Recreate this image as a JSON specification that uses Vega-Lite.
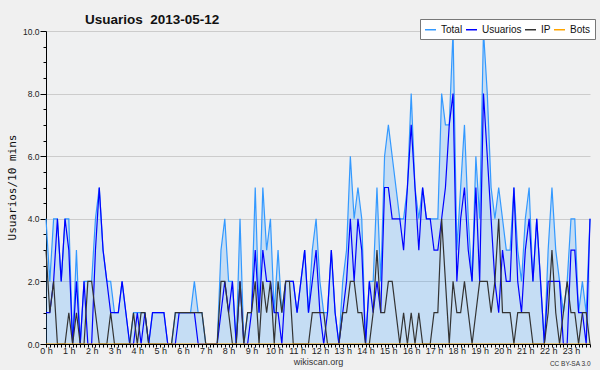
{
"$schema": "https://vega.github.io/schema/vega-lite/v6.json",
"width": 544, "height": 313,
"autosize": "none",
"padding": {"left": 46, "top": 31, "right": 10, "bottom": 26},
"background": "#f0f0f0",
"config": {"view": {"stroke": null, "fill": "#eff0f1"}},
"title": {"text": "Usuarios\u00a0 2013-05-12", "anchor": "start", "frame": "group", "dx": 39, "offset": -8, "font": "Liberation Sans", "fontSize": 13.5, "fontWeight": "bold", "color": "#111111"},
"data": {"values": [
{"m":0,"Total":4,"Usuarios":1,"IP":3,"Bots":0},
{"m":10,"Total":2,"Usuarios":1,"IP":1,"Bots":0},
{"m":20,"Total":4,"Usuarios":2,"IP":2,"Bots":0},
{"m":30,"Total":4,"Usuarios":4,"IP":0,"Bots":0},
{"m":40,"Total":2,"Usuarios":2,"IP":0,"Bots":0},
{"m":50,"Total":4,"Usuarios":4,"IP":0,"Bots":0},
{"m":60,"Total":4,"Usuarios":3,"IP":1,"Bots":0},
{"m":70,"Total":0,"Usuarios":0,"IP":0,"Bots":0},
{"m":80,"Total":3,"Usuarios":2,"IP":1,"Bots":0},
{"m":90,"Total":0,"Usuarios":0,"IP":0,"Bots":0},
{"m":100,"Total":2,"Usuarios":2,"IP":0,"Bots":0},
{"m":110,"Total":2,"Usuarios":0,"IP":2,"Bots":0},
{"m":120,"Total":2,"Usuarios":0,"IP":2,"Bots":0},
{"m":130,"Total":4,"Usuarios":3,"IP":1,"Bots":0},
{"m":140,"Total":5,"Usuarios":5,"IP":0,"Bots":0},
{"m":150,"Total":3,"Usuarios":3,"IP":0,"Bots":0},
{"m":160,"Total":2,"Usuarios":2,"IP":0,"Bots":0},
{"m":170,"Total":2,"Usuarios":1,"IP":1,"Bots":0},
{"m":180,"Total":1,"Usuarios":1,"IP":0,"Bots":0},
{"m":190,"Total":1,"Usuarios":1,"IP":0,"Bots":0},
{"m":200,"Total":2,"Usuarios":2,"IP":0,"Bots":0},
{"m":210,"Total":1,"Usuarios":1,"IP":0,"Bots":0},
{"m":220,"Total":0,"Usuarios":0,"IP":0,"Bots":0},
{"m":230,"Total":1,"Usuarios":0,"IP":1,"Bots":0},
{"m":240,"Total":1,"Usuarios":1,"IP":0,"Bots":0},
{"m":250,"Total":1,"Usuarios":0,"IP":1,"Bots":0},
{"m":260,"Total":1,"Usuarios":1,"IP":1,"Bots":0},
{"m":270,"Total":0,"Usuarios":0,"IP":0,"Bots":0},
{"m":280,"Total":1,"Usuarios":1,"IP":0,"Bots":0},
{"m":290,"Total":1,"Usuarios":1,"IP":0,"Bots":0},
{"m":300,"Total":1,"Usuarios":1,"IP":0,"Bots":0},
{"m":310,"Total":1,"Usuarios":1,"IP":0,"Bots":0},
{"m":320,"Total":0,"Usuarios":0,"IP":0,"Bots":0},
{"m":330,"Total":0,"Usuarios":0,"IP":0,"Bots":0},
{"m":340,"Total":1,"Usuarios":0,"IP":1,"Bots":0},
{"m":350,"Total":1,"Usuarios":1,"IP":1,"Bots":0},
{"m":360,"Total":1,"Usuarios":1,"IP":1,"Bots":0},
{"m":370,"Total":1,"Usuarios":1,"IP":1,"Bots":0},
{"m":380,"Total":1,"Usuarios":1,"IP":1,"Bots":0},
{"m":390,"Total":2,"Usuarios":1,"IP":1,"Bots":0},
{"m":400,"Total":1,"Usuarios":0,"IP":1,"Bots":0},
{"m":410,"Total":1,"Usuarios":0,"IP":1,"Bots":0},
{"m":420,"Total":0,"Usuarios":0,"IP":0,"Bots":0},
{"m":430,"Total":0,"Usuarios":0,"IP":0,"Bots":0},
{"m":440,"Total":0,"Usuarios":0,"IP":0,"Bots":0},
{"m":450,"Total":0,"Usuarios":0,"IP":0,"Bots":0},
{"m":460,"Total":3,"Usuarios":1,"IP":2,"Bots":0},
{"m":470,"Total":4,"Usuarios":2,"IP":2,"Bots":0},
{"m":480,"Total":2,"Usuarios":1,"IP":1,"Bots":0},
{"m":490,"Total":2,"Usuarios":2,"IP":0,"Bots":0},
{"m":500,"Total":0,"Usuarios":0,"IP":0,"Bots":0},
{"m":510,"Total":4,"Usuarios":2,"IP":2,"Bots":0},
{"m":520,"Total":0,"Usuarios":0,"IP":0,"Bots":0},
{"m":530,"Total":1,"Usuarios":0,"IP":1,"Bots":0},
{"m":540,"Total":1,"Usuarios":1,"IP":1,"Bots":0},
{"m":550,"Total":5,"Usuarios":3,"IP":2,"Bots":0},
{"m":560,"Total":1,"Usuarios":1,"IP":0,"Bots":0},
{"m":570,"Total":5,"Usuarios":3,"IP":2,"Bots":0},
{"m":580,"Total":3,"Usuarios":2,"IP":1,"Bots":0},
{"m":590,"Total":4,"Usuarios":2,"IP":2,"Bots":0},
{"m":600,"Total":1,"Usuarios":1,"IP":0,"Bots":0},
{"m":610,"Total":3,"Usuarios":1,"IP":2,"Bots":0},
{"m":620,"Total":1,"Usuarios":0,"IP":1,"Bots":0},
{"m":630,"Total":2,"Usuarios":2,"IP":2,"Bots":0},
{"m":640,"Total":2,"Usuarios":2,"IP":2,"Bots":0},
{"m":650,"Total":2,"Usuarios":2,"IP":0,"Bots":0},
{"m":660,"Total":1,"Usuarios":1,"IP":0,"Bots":0},
{"m":670,"Total":2,"Usuarios":2,"IP":0,"Bots":0},
{"m":680,"Total":3,"Usuarios":3,"IP":0,"Bots":0},
{"m":690,"Total":1,"Usuarios":1,"IP":0,"Bots":0},
{"m":700,"Total":3,"Usuarios":2,"IP":1,"Bots":0},
{"m":710,"Total":4,"Usuarios":3,"IP":1,"Bots":0},
{"m":720,"Total":2,"Usuarios":1,"IP":1,"Bots":0},
{"m":730,"Total":1,"Usuarios":0,"IP":1,"Bots":0},
{"m":740,"Total":1,"Usuarios":1,"IP":0,"Bots":0},
{"m":750,"Total":3,"Usuarios":3,"IP":0,"Bots":0},
{"m":760,"Total":1,"Usuarios":1,"IP":0,"Bots":0},
{"m":770,"Total":0,"Usuarios":0,"IP":0,"Bots":0},
{"m":780,"Total":2,"Usuarios":1,"IP":1,"Bots":0},
{"m":790,"Total":3,"Usuarios":2,"IP":1,"Bots":0},
{"m":800,"Total":6,"Usuarios":4,"IP":2,"Bots":0},
{"m":810,"Total":4,"Usuarios":2,"IP":2,"Bots":0},
{"m":820,"Total":5,"Usuarios":4,"IP":1,"Bots":0},
{"m":830,"Total":4,"Usuarios":3,"IP":1,"Bots":0},
{"m":840,"Total":0,"Usuarios":0,"IP":0,"Bots":0},
{"m":850,"Total":2,"Usuarios":2,"IP":0,"Bots":0},
{"m":860,"Total":2,"Usuarios":1,"IP":1,"Bots":0},
{"m":870,"Total":5,"Usuarios":2,"IP":3,"Bots":0},
{"m":880,"Total":2,"Usuarios":1,"IP":1,"Bots":0},
{"m":890,"Total":6,"Usuarios":5,"IP":1,"Bots":0},
{"m":900,"Total":7,"Usuarios":5,"IP":2,"Bots":0},
{"m":910,"Total":6,"Usuarios":4,"IP":2,"Bots":0},
{"m":920,"Total":5,"Usuarios":4,"IP":1,"Bots":0},
{"m":930,"Total":4,"Usuarios":4,"IP":0,"Bots":0},
{"m":940,"Total":4,"Usuarios":3,"IP":1,"Bots":0},
{"m":950,"Total":5,"Usuarios":5,"IP":0,"Bots":0},
{"m":960,"Total":8,"Usuarios":7,"IP":1,"Bots":0},
{"m":970,"Total":5,"Usuarios":5,"IP":0,"Bots":0},
{"m":980,"Total":4,"Usuarios":3,"IP":1,"Bots":0},
{"m":990,"Total":5,"Usuarios":5,"IP":0,"Bots":0},
{"m":1000,"Total":4,"Usuarios":4,"IP":0,"Bots":0},
{"m":1010,"Total":4,"Usuarios":4,"IP":0,"Bots":0},
{"m":1020,"Total":4,"Usuarios":3,"IP":1,"Bots":0},
{"m":1030,"Total":4,"Usuarios":3,"IP":1,"Bots":0},
{"m":1040,"Total":8,"Usuarios":4,"IP":4,"Bots":0},
{"m":1050,"Total":7,"Usuarios":5,"IP":2,"Bots":0},
{"m":1060,"Total":7,"Usuarios":7,"IP":0,"Bots":0},
{"m":1070,"Total":10,"Usuarios":8,"IP":2,"Bots":0},
{"m":1080,"Total":3,"Usuarios":2,"IP":1,"Bots":0},
{"m":1090,"Total":5,"Usuarios":4,"IP":1,"Bots":0},
{"m":1100,"Total":7,"Usuarios":5,"IP":2,"Bots":0},
{"m":1110,"Total":4,"Usuarios":3,"IP":1,"Bots":0},
{"m":1120,"Total":2,"Usuarios":2,"IP":0,"Bots":0},
{"m":1130,"Total":6,"Usuarios":5,"IP":1,"Bots":0},
{"m":1140,"Total":4,"Usuarios":2,"IP":2,"Bots":0},
{"m":1150,"Total":10,"Usuarios":8,"IP":2,"Bots":0},
{"m":1160,"Total":8,"Usuarios":6,"IP":2,"Bots":0},
{"m":1170,"Total":5,"Usuarios":4,"IP":1,"Bots":0},
{"m":1180,"Total":4,"Usuarios":2,"IP":2,"Bots":0},
{"m":1190,"Total":5,"Usuarios":1,"IP":4,"Bots":0},
{"m":1200,"Total":4,"Usuarios":3,"IP":1,"Bots":0},
{"m":1210,"Total":3,"Usuarios":2,"IP":1,"Bots":0},
{"m":1220,"Total":3,"Usuarios":2,"IP":1,"Bots":0},
{"m":1230,"Total":5,"Usuarios":5,"IP":0,"Bots":0},
{"m":1240,"Total":3,"Usuarios":2,"IP":1,"Bots":0},
{"m":1250,"Total":2,"Usuarios":1,"IP":1,"Bots":0},
{"m":1260,"Total":4,"Usuarios":3,"IP":1,"Bots":0},
{"m":1270,"Total":5,"Usuarios":4,"IP":1,"Bots":0},
{"m":1280,"Total":2,"Usuarios":2,"IP":0,"Bots":0},
{"m":1290,"Total":4,"Usuarios":4,"IP":0,"Bots":0},
{"m":1300,"Total":2,"Usuarios":2,"IP":0,"Bots":0},
{"m":1310,"Total":0,"Usuarios":0,"IP":0,"Bots":0},
{"m":1320,"Total":3,"Usuarios":2,"IP":1,"Bots":0},
{"m":1330,"Total":5,"Usuarios":2,"IP":3,"Bots":0},
{"m":1340,"Total":3,"Usuarios":2,"IP":1,"Bots":0},
{"m":1350,"Total":2,"Usuarios":2,"IP":0,"Bots":0},
{"m":1360,"Total":1,"Usuarios":0,"IP":1,"Bots":0},
{"m":1370,"Total":2,"Usuarios":0,"IP":2,"Bots":0},
{"m":1380,"Total":4,"Usuarios":3,"IP":1,"Bots":0},
{"m":1390,"Total":4,"Usuarios":3,"IP":1,"Bots":0},
{"m":1400,"Total":1,"Usuarios":1,"IP":0,"Bots":0},
{"m":1410,"Total":2,"Usuarios":1,"IP":1,"Bots":0},
{"m":1420,"Total":1,"Usuarios":0,"IP":1,"Bots":0},
{"m":1430,"Total":4,"Usuarios":4,"IP":0,"Bots":0}
]},
"transform": [{"fold": ["Total", "Usuarios", "IP", "Bots"], "as": ["key", "value"]}],
"encoding": {
  "y": {"field": "value", "type": "quantitative", "scale": {"domain": [0, 10], "nice": false, "zero": true},
    "axis": {"title": "Usuarios/10 mins", "values": [0,0.5,1,1.5,2,2.5,3,3.5,4,4.5,5,5.5,6,6.5,7,7.5,8,8.5,9,9.5,10],
      "labelExpr": "datum.value % 2 == 0 ? format(datum.value, '.1f') : ''",
      "labelOverlap": false, "labelFont": "Liberation Sans", "labelFontSize": 8.5, "labelColor": "#222222", "labelPadding": 1,
      "grid": true, "gridColor": "#cccccc", "gridOpacity": {"condition": {"test": "datum.value % 2 == 0 && datum.value > 0", "value": 1}, "value": 0},
      "domainColor": "#000000", "tickColor": "#000000", "tickSize": {"condition": {"test": "datum.value % 2 == 0", "value": 6}, "value": 3},
      "titleFont": "DejaVu Sans Mono", "titleFontSize": 11, "titleFontWeight": "normal", "titleColor": "#111111",
      "titleX": -34, "titleY": 156, "titleAlign": "center", "titleBaseline": "middle", "titleAngle": -90}}
},
"layer": [
  {"transform": [{"filter": "datum.key == 'Total'"}],
   "mark": {"type": "area", "color": "#3399ff", "opacity": 0.22},
   "encoding": {"x": {"field": "m", "type": "quantitative", "scale": {"domain": [0, 1430], "nice": false, "zero": false}, "axis": null}}},
  {"mark": {"type": "line", "strokeWidth": 1.2},
   "encoding": {
     "x": {"field": "m", "type": "quantitative", "scale": {"domain": [0, 1430], "nice": false, "zero": false},
       "axis": {"title": "wikiscan.org", "values": [0,10,20,30,40,50,60,70,80,90,100,110,120,130,140,150,160,170,180,190,200,210,220,230,240,250,260,270,280,290,300,310,320,330,340,350,360,370,380,390,400,410,420,430,440,450,460,470,480,490,500,510,520,530,540,550,560,570,580,590,600,610,620,630,640,650,660,670,680,690,700,710,720,730,740,750,760,770,780,790,800,810,820,830,840,850,860,870,880,890,900,910,920,930,940,950,960,970,980,990,1000,1010,1020,1030,1040,1050,1060,1070,1080,1090,1100,1110,1120,1130,1140,1150,1160,1170,1180,1190,1200,1210,1220,1230,1240,1250,1260,1270,1280,1290,1300,1310,1320,1330,1340,1350,1360,1370,1380,1390,1400,1410,1420,1430],
         "labelExpr": "datum.value % 60 == 0 ? (datum.value / 60) + ' h' : ''",
         "labelOverlap": false, "labelFlush": false, "labelFont": "Liberation Sans", "labelFontSize": 9, "labelColor": "#222222", "labelPadding": -1,
         "grid": false, "domainColor": "#000000", "tickColor": "#000000", "tickSize": 3, "zindex": 1,
         "titleFont": "Liberation Sans", "titleFontSize": 9, "titleFontWeight": "normal", "titleColor": "#333333", "titlePadding": 2}},
     "color": {"field": "key", "type": "nominal",
       "scale": {"domain": ["Total", "Usuarios", "IP", "Bots"], "range": ["#3399ff", "#0000ff", "#333333", "#ffa500"]},
       "legend": {"orient": "none", "legendX": 374, "legendY": -12, "direction": "horizontal", "title": null,
         "symbolType": "stroke", "symbolSize": 120, "symbolStrokeWidth": 1.5, "labelFont": "Liberation Sans", "labelFontSize": 10, "labelColor": "#111111",
         "fillColor": "#ffffff", "strokeColor": "#777777", "padding": 4, "columnPadding": 0, "labelOffset": 4}}
   }},
  {"transform": [{"filter": "datum.key == 'Total'"}],
   "mark": {"type": "line", "strokeOpacity": 0},
   "encoding": {"x": {"field": "m", "type": "quantitative", "scale": {"domain": [0, 1430], "nice": false, "zero": false},
     "axis": {"title": "CC BY-SA 3.0", "orient": "bottom", "labels": false, "ticks": false, "domain": false, "grid": false,
       "titleFont": "Liberation Sans", "titleFontSize": 6.5, "titleFontWeight": "normal", "titleColor": "#333333",
       "titleX": 544, "titleY": 19, "titleAlign": "right", "titleBaseline": "middle"}}}}
],
"resolve": {"axis": {"x": "independent"}}
}
